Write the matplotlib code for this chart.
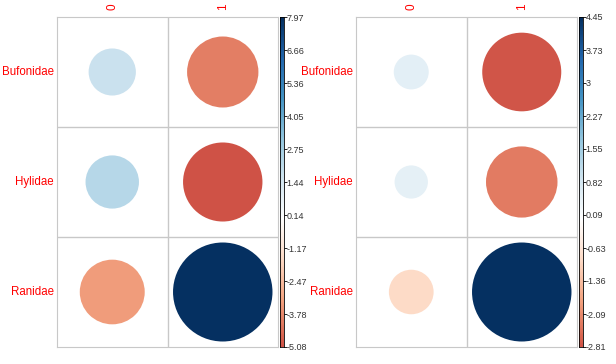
import matplotlib.pyplot as plt
from matplotlib.colors import LinearSegmentedColormap, Normalize
from matplotlib.patches import Circle
import numpy as np

# families (rows) and outcome (columns)
rows = ['Bufonidae', 'Hylidae', 'Ranidae']
cols = ['0', '1']

# residual values
left_vals = [[1.8, -4.1],
             [2.3, -5.08],
             [-3.4, 7.97]]
right_vals = [[0.55, -2.81],
              [0.5, -2.3],
              [-0.9, 4.45]]

# colour-bar labels as printed
left_ticks = ['7.97', '6.66', '5.36', '4.05', '2.75', '1.44', '0.14', '-1.17', '-2.47', '-3.78', '-5.08']
right_ticks = ['4.45', '3.73', '3', '2.27', '1.55', '0.82', '0.09', '-0.63', '-1.36', '-2.09', '-2.81']

# corrplot RdBu palette
cmap = LinearSegmentedColormap.from_list('rdbu', ["#67001F", "#B2182B", "#D6604D", "#F4A582", "#FDDBC7",
                                                  "#FFFFFF", "#D1E5F0", "#92C5DE", "#4393C3", "#2166AC", "#053061"])

plt.rcParams['font.family'] = ['Liberation Sans', 'DejaVu Sans']

W, H = 616, 364
fig = plt.figure(figsize=(W / 100, H / 100), dpi=100)


def px(x0, y0, w, h):
    return [x0 / W, 1 - (y0 + h) / H, w / W, h / H]


def panel(x0, vals, ticks):
    vals = np.array(vals)
    m = np.abs(vals).max()
    norm = Normalize(-m, m)
    ax = fig.add_axes(px(x0, 17, 221, 330))
    ax.set_xlim(0.5, len(cols) + 0.5)
    ax.set_ylim(len(rows) + 0.5, 0.5)
    for i in range(len(rows)):
        for j in range(len(cols)):
            v = vals[i, j]
            r = 0.45 * np.sqrt(abs(v) / m)
            ax.add_patch(Circle((j + 1, i + 1), r, color=cmap(norm(v)), lw=0))
    for k in np.arange(1.5, len(cols), 1):
        ax.axvline(k, color='#C8C8C8', lw=1)
    for k in np.arange(1.5, len(rows), 1):
        ax.axhline(k, color='#C8C8C8', lw=1)
    for s in ax.spines.values():
        s.set_color('#C8C8C8')
    ax.set_xticks([])
    ax.set_yticks([])
    for j, c in enumerate(cols):
        ax.text(j + 1, 0.44, c, rotation=90, color='red', ha='center', va='bottom', fontsize=8.5)
    for i, r in enumerate(rows):
        ax.text(0.47, i + 1, r, color='red', ha='right', va='center', fontsize=8.3)

    # colour bar covering min..max of the data
    lo, hi = vals.min(), vals.max()
    cax = fig.add_axes(px(x0 + 223, 17, 4, 330))
    grad = np.linspace(lo, hi, 256).reshape(-1, 1)
    cax.imshow(grad, cmap=cmap, norm=norm, aspect='auto', origin='lower', extent=[0, 1, lo, hi])
    cax.set_xticks([])
    cax.yaxis.tick_right()
    cax.set_yticks(np.linspace(hi, lo, len(ticks)))
    cax.set_yticklabels(ticks)
    cax.tick_params(axis='y', length=2, width=0.6, pad=0, labelsize=6.5, labelcolor='#333333')
    for s in cax.spines.values():
        s.set_linewidth(0.6)


panel(57, left_vals, left_ticks)
panel(356, right_vals, right_ticks)

plt.savefig('out.png', dpi=100)
